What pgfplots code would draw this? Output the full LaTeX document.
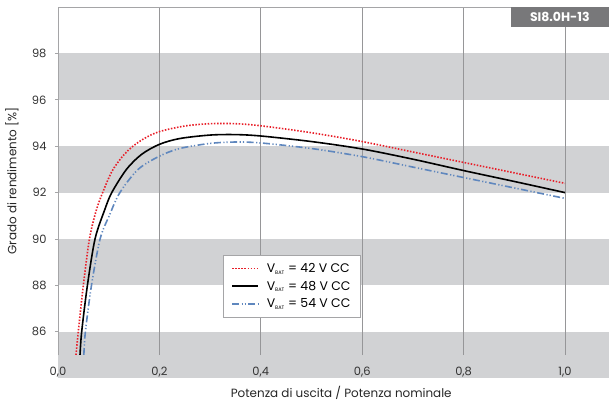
\documentclass[border=0pt]{standalone}
\usepackage{fontspec}
\setmainfont{Poppins}
\usepackage{pgfplots}
\pgfplotsset{compat=1.18}
\usetikzlibrary{calc}
\definecolor{bandgray}{RGB}{209,210,212}
\definecolor{gridgray}{RGB}{150,150,152}
\definecolor{framegray}{RGB}{165,165,167}
\definecolor{badgegray}{RGB}{120,120,122}
\definecolor{redc}{RGB}{232,30,40}
\definecolor{bluec}{RGB}{95,135,190}
\begin{document}
\begin{tikzpicture}
\begin{axis}[
  name=ax,
  set layers,
  scale only axis,
  width=551bp, height=348bp,
  xmin=0, xmax=1.0868, ymin=85, ymax=100,
  axis line style={draw=none},
  xtick={0,0.2,...,1.0},
  ytick={86,88,...,98},
  xmajorgrids,
  major grid style={draw=gridgray, line width=0.6bp},
  x tick style={draw=none},
  y tick style={draw=framegray, line width=0.6bp},
  tick align=outside,
  major tick length=3bp,
  tick label style={font=\fontsize{11.5}{13}\selectfont, text=black!80},
  xticklabel style={yshift=-6bp},
  yticklabel style={xshift=-5bp},
  /pgf/number format/assume math mode=true,
  x tick label style={/pgf/number format/.cd, use comma, fixed, fixed zerofill, precision=1},
  y tick label style={/pgf/number format/.cd, fixed, precision=0},
  xlabel={Potenza di uscita / Potenza nominale},
  ylabel={Grado di rendimento [\%]},
  label style={font=\fontsize{12}{14}\selectfont, text=black!85},
  xlabel style={at={(rel axis cs:0.514,0)}, anchor=north, yshift=-28bp},
  ylabel style={at={(rel axis cs:0,0.5)}, anchor=south, yshift=36bp},
  legend style={at={(rel axis cs:0.2995,0.287)}, anchor=north west, draw=framegray, font=\fontsize{12.5}{15}\selectfont, fill=white, inner xsep=8bp, inner ysep=6bp, row sep=3bp, /tikz/column 1/.style={column sep=6bp}},
  legend cell align=left,
  legend image code/.code={\draw[#1, line width=1.6bp] (0bp,0bp) -- (26bp,0bp);},
]
\begin{pgfonlayer}{axis background}
\fill[bandgray] (axis cs:0,96) rectangle (axis cs:1.0868,98);
\fill[bandgray] (axis cs:0,92) rectangle (axis cs:1.0868,94);
\fill[bandgray] (axis cs:0,88) rectangle (axis cs:1.0868,90);
\fill[bandgray] (axis cs:0,84) rectangle (axis cs:1.0868,86);
\end{pgfonlayer}
\addplot[redc, line width=1.6bp, dash pattern=on 1.5bp off 1.6bp, smooth] coordinates {
(0.0355,85) (0.040,86) (0.050,88) (0.062,90) (0.075,91.2) (0.088,92) (0.106,92.9) (0.125,93.5) (0.145,93.95) (0.17,94.33) (0.2,94.63) (0.25,94.87) (0.3,94.97) (0.35,94.97) (0.4,94.88) (0.5,94.58) (0.6,94.2) (0.7,93.75) (0.8,93.3) (0.9,92.85) (1.0,92.4)};
\addlegendentry{V\textsubscript{\fontsize{5}{5}\selectfont BAT} = 42 V CC}
\addplot[black, line width=1.6bp, smooth] coordinates {
(0.0434,85) (0.0467,86) (0.058,88) (0.073,90) (0.092,91.25) (0.106,92) (0.135,93) (0.165,93.65) (0.2,94.08) (0.24,94.33) (0.3,94.48) (0.35,94.5) (0.4,94.44) (0.5,94.2) (0.6,93.88) (0.7,93.44) (0.8,92.95) (0.9,92.48) (1.0,92.0)};
\addlegendentry{V\textsubscript{\fontsize{5}{5}\selectfont BAT} = 48 V CC}
\addplot[bluec, line width=1.6bp, dash pattern=on 7bp off 2.5bp on 1.2bp off 2bp on 1.2bp off 2.5bp, smooth] coordinates {
(0.051,85) (0.054,86) (0.066,88) (0.083,90) (0.102,91.05) (0.122,92) (0.158,93) (0.2,93.57) (0.24,93.9) (0.3,94.12) (0.35,94.18) (0.4,94.14) (0.5,93.9) (0.6,93.55) (0.7,93.1) (0.8,92.65) (0.9,92.2) (1.0,91.75)};
\addlegendentry{V\textsubscript{\fontsize{5}{5}\selectfont BAT} = 54 V CC}
\draw[framegray, line width=0.8bp] (rel axis cs:1,1) -- (rel axis cs:0,1) -- (rel axis cs:0,0) -- (rel axis cs:1,0);
\node[fill=badgegray, text=white, font=\bfseries\fontsize{12.5}{14}\selectfont, anchor=north east, minimum width=98bp, minimum height=20bp, inner sep=0pt] at (rel axis cs:1,1) {SI8.0H-13};
\end{axis}
\pgfresetboundingbox
\path ($(ax.south west)+(-58bp,-50bp)$) rectangle ($(ax.north east)+(0,7bp)$);
\end{tikzpicture}
\end{document}
